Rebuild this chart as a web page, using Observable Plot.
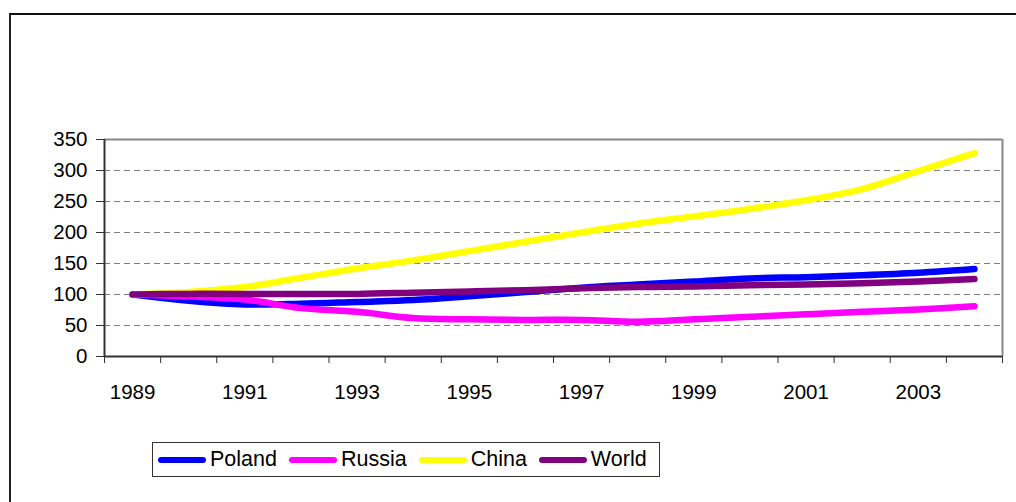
<!DOCTYPE html>
<html>
<head>
<meta charset="utf-8">
<script src="https://cdn.jsdelivr.net/npm/d3@7"></script>
<script src="https://cdn.jsdelivr.net/npm/@observablehq/plot@0.6"></script>
<style>
  html, body { margin: 0; padding: 0; background: #fff; overflow: hidden; }
  #wrap { position: relative; width: 1016px; height: 502px; overflow: hidden; font-family: "Liberation Sans", Arial, sans-serif; }
  #outer { position: absolute; left: 9px; top: 13px; width: 1200px; height: 700px; border-left: 2px solid #222; border-top: 2px solid #111; box-sizing: border-box; }
  #chart { position: absolute; left: 0; top: 0; }
  #legend { position: absolute; left: 152px; top: 442px; height: 35px; border: 1px solid #333; box-sizing: border-box; display: flex; align-items: center; padding: 0 12px 0 5px; background: #fff; font-size: 21.5px; color: #000; }
  .item { display: flex; align-items: center; margin-right: 12px; }
  .item:last-child { margin-right: 0; }
  .sw { width: 48px; height: 6px; border-radius: 3px; margin-right: 4px; }
</style>
</head>
<body>
<div id="wrap">
  <div id="outer"></div>
  <div id="chart"></div>
  <div id="legend"></div>
</div>
<script>
const years  = [1989, 1990, 1991, 1992, 1993, 1994, 1995, 1996, 1997, 1998, 1999, 2000, 2001, 2002, 2003, 2004];
const poland = [100, 90, 84, 85, 88, 91, 97, 104, 111, 116, 121, 126, 128, 131, 135, 141];
const russia = [100, 97, 92, 78, 72, 62, 60, 59, 59, 56, 60, 64, 68, 72, 76, 81];
const china  = [100, 104, 112, 127, 142, 155, 170, 185, 200, 214, 226, 238, 252, 270, 299, 328];
const world  = [100, 101, 101, 101, 101, 103, 105, 107, 110, 112, 113, 115, 116, 118, 121, 125];
const seriesNames  = ["Poland", "Russia", "China", "World"];
const seriesValues = [poland, russia, china, world];
const seriesColors = ["#0000ff", "#ff00ff", "#ffff00", "#800080"];
const yTicks = [0, 50, 100, 150, 200, 250, 300, 350];
const xLabelYears = [1989, 1991, 1993, 1995, 1997, 1999, 2001, 2003];

const rows = [];
seriesNames.forEach((name, s) => {
  years.forEach((yr, i) => rows.push({series: name, year: yr, value: seriesValues[s][i]}));
});
const xMin = years[0] - 0.5, xMax = years[years.length - 1] + 0.5;
const boundaries = d3.range(xMin, xMax + 0.01, 1);
const grid = yTicks.filter(v => v > 0 && v < 350);

const chart = Plot.plot({
  width: 1016,
  height: 502,
  marginLeft: 104,
  marginRight: 14,
  marginTop: 139,
  marginBottom: 146,
  style: {background: "transparent", fontFamily: "'Liberation Sans', Arial, sans-serif", color: "#000", overflow: "visible"},
  x: {type: "linear", domain: [xMin, xMax], label: null},
  y: {domain: [0, 350], label: null},
  color: {domain: seriesNames, range: seriesColors},
  marks: [
    Plot.ruleY(grid, {stroke: "#808080", strokeWidth: 1.2, strokeDasharray: "6,4"}),
    Plot.ruleY([350], {stroke: "#888", strokeWidth: 2}),
    Plot.ruleX([xMax], {stroke: "#888", strokeWidth: 2}),
    Plot.axisY({ticks: yTicks, label: null, tickSize: 8, tickPadding: 9, fontSize: 20.5, stroke: "#333", tickFormat: d => String(d)}),
    Plot.axisX({ticks: boundaries, label: null, tickSize: 7, stroke: "#333", tickFormat: () => ""}),
    Plot.axisX({ticks: xLabelYears, label: null, tickSize: 0, tickPadding: 28, fontSize: 20.5, tickFormat: d => String(d)}),
    ...seriesNames.map(name => Plot.line(rows.filter(r => r.series === name), {
      x: "year", y: "value", stroke: "series", strokeWidth: 6.5, strokeLinecap: "round", strokeLinejoin: "round", curve: "catmull-rom"
    })),
    Plot.ruleX([xMin], {stroke: "#333", strokeWidth: 2}),
    Plot.ruleY([0], {stroke: "#333", strokeWidth: 2})
  ]
});
document.getElementById("chart").appendChild(chart);

const legend = document.getElementById("legend");
seriesNames.forEach((name, i) => {
  const item = document.createElement("div");
  item.className = "item";
  const sw = document.createElement("div");
  sw.className = "sw";
  sw.style.background = seriesColors[i];
  const label = document.createElement("span");
  label.textContent = name;
  item.appendChild(sw);
  item.appendChild(label);
  legend.appendChild(item);
});
</script>
</body>
</html>
